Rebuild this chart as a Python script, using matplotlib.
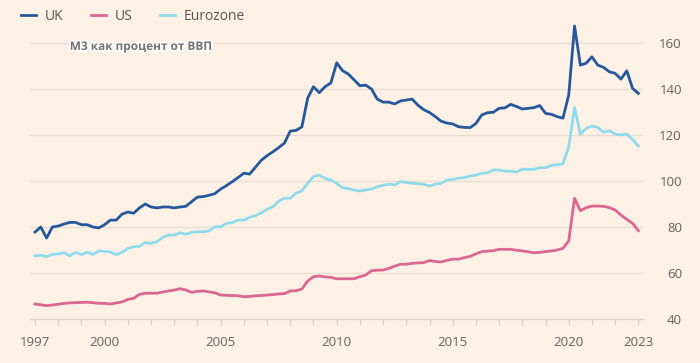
import numpy as np
import matplotlib
matplotlib.use("Agg")
import matplotlib.pyplot as plt
import matplotlib.patheffects as pe

# quarterly observations, 1997 Q1 .. 2023 Q1, M3 as % of GDP
quarters = np.arange(1997, 2023.01, 0.25)

uk = [77.8, 80.0, 75.2, 80.0,
      80.4, 81.3, 82.0, 82.0,
      81.0, 81.0, 80.0, 79.6,
      81.0, 83.0, 83.0, 85.6,
      86.5, 86.0, 88.3, 90.0,
      88.7, 88.3, 88.7, 88.7,
      88.3, 88.7, 89.0, 91.0,
      93.0, 93.2, 93.8, 94.5,
      96.5, 98.0, 99.7, 101.5,
      103.4, 103.0, 106.0, 109.0,
      111.0, 112.7, 114.5, 116.5,
      121.7, 122.0, 123.5, 136.0,
      141.0, 138.4, 141.0, 142.6,
      151.4, 148.0, 146.5, 144.0,
      141.4, 141.7, 140.0, 135.6,
      134.3, 134.3, 133.5, 134.8,
      135.2, 135.6, 133.0, 131.0,
      129.8, 128.0, 126.0, 125.2,
      124.8, 123.6, 123.3, 123.2,
      125.0, 128.7, 129.7, 129.9,
      131.6, 131.8, 133.3, 132.4,
      131.3, 131.6, 131.9, 132.8,
      129.4, 129.0, 128.0, 127.3,
      137.4, 167.4, 150.4, 151.2,
      154.0, 150.4, 149.4, 147.5,
      146.8, 144.3, 147.9, 140.3,
      138.1]

us = [46.5, 46.2, 45.8, 46.1,
      46.4, 46.8, 47.0, 47.1,
      47.2, 47.3, 47.1, 46.8,
      46.8, 46.5, 47.0, 47.4,
      48.5, 49.0, 50.7, 51.2,
      51.2, 51.2, 51.7, 52.2,
      52.6, 53.2, 52.6, 51.6,
      52.0, 52.2, 51.8, 51.4,
      50.4, 50.3, 50.2, 50.1,
      49.7, 49.8, 50.1, 50.2,
      50.4, 50.6, 50.9, 51.0,
      52.2, 52.3, 53.0, 56.5,
      58.4, 58.7, 58.3, 58.1,
      57.5, 57.5, 57.5, 57.5,
      58.4, 59.1, 61.0, 61.2,
      61.3, 62.0, 63.0, 63.8,
      63.8, 64.2, 64.4, 64.5,
      65.4, 65.0, 64.8, 65.5,
      66.0, 66.0, 66.7, 67.2,
      68.3, 69.3, 69.5, 69.7,
      70.3, 70.3, 70.3, 69.9,
      69.6, 69.2, 68.8, 69.0,
      69.3, 69.6, 70.0, 70.7,
      74.0, 92.5, 87.1, 88.4,
      89.1, 89.1, 89.0, 88.4,
      87.4, 85.2, 83.3, 81.6,
      78.4]

eurozone = [67.4, 67.8, 67.1, 68.1,
            68.3, 68.8, 67.5, 69.0,
            68.0, 69.0, 68.1, 69.6,
            69.4, 69.1, 68.0, 69.0,
            70.7, 71.4, 71.6, 73.2,
            72.9, 73.6, 75.5, 76.5,
            76.5, 77.5, 76.8, 77.7,
            77.9, 77.9, 78.3, 80.1,
            80.1, 81.6, 81.9, 83.0,
            83.0, 84.2, 84.9, 86.2,
            87.7, 88.8, 91.2, 92.5,
            92.5, 94.7, 95.7, 99.0,
            101.9, 102.6, 101.2, 100.4,
            99.0, 97.1, 96.7, 96.1,
            95.7, 96.1, 96.5, 97.5,
            98.2, 98.6, 98.3, 99.7,
            99.4, 99.0, 98.8, 98.6,
            97.8, 98.6, 99.0, 100.4,
            100.7, 101.2, 101.5, 102.2,
            102.6, 103.3, 103.6, 104.8,
            104.8, 104.3, 104.3, 103.9,
            105.1, 105.1, 105.1, 105.8,
            105.8, 106.8, 107.1, 107.4,
            114.9, 132.0, 120.4, 122.9,
            123.9, 123.3, 121.2, 121.9,
            120.4, 120.0, 120.4, 118.1,
            115.2]

year_ticks = list(range(1997, 2024))
year_labels = [1997, 2000, 2005, 2010, 2015, 2020, 2023]
y_ticks = [40, 60, 80, 100, 120, 140, 160]

bg = "#fdf1e6"
plt.rcParams["font.family"] = ["Open Sans", "DejaVu Sans"]

fig = plt.figure(figsize=(7, 3.63), dpi=100, facecolor=bg)
ax = fig.add_axes([30/700, 44/363, 613/700, 299/363], facecolor=bg)

#Plot
ax.plot(quarters, uk, color="#24579c", lw=2.0, label="UK")
ax.plot(quarters, us, color="#db6690", lw=2.0, label="US")
ax.plot(quarters, eurozone, color="#8fdbe9", lw=2.0, label="Eurozone")

ax.set_xlim(1996.785, 2023.2)
ax.set_ylim(40, 170)

#grid and axes
for v in y_ticks[1:]:
    ax.axhline(v, color="#e8ddd3", lw=0.9, zorder=0)
for s in ["top", "right", "left"]:
    ax.spines[s].set_visible(False)
ax.spines["bottom"].set_color("#ddd3ca")
ax.spines["bottom"].set_linewidth(1.0)

ax.set_xticks(year_ticks)
ax.set_xticklabels([str(y) if y in year_labels else "" for y in year_ticks])
ax.tick_params(axis="x", length=4, width=0.8, color="#d6ccc3", pad=8,
               labelsize=9.5, labelcolor="#66605c")

ax.yaxis.tick_right()
ax.set_yticks(y_ticks)
ax.tick_params(axis="y", length=0, pad=28, labelsize=9.5, labelcolor="#66605c")
for lab in ax.get_yticklabels():
    lab.set_horizontalalignment("right")

ax.text(1998.5, 158.5, "M3 как процент от ВВП", fontsize=8.5, fontweight="bold",
        color="#727272", va="center", ha="left",
        path_effects=[pe.withStroke(linewidth=2.5, foreground="white")])

fig.legend(loc="upper left", bbox_to_anchor=(0.012, 1.01), ncol=3, frameon=False,
           handlelength=1.1, handletextpad=0.6, columnspacing=2.0,
           fontsize=10, labelcolor="#5a5451")

fig.savefig("out.png", dpi=100, facecolor=bg)
